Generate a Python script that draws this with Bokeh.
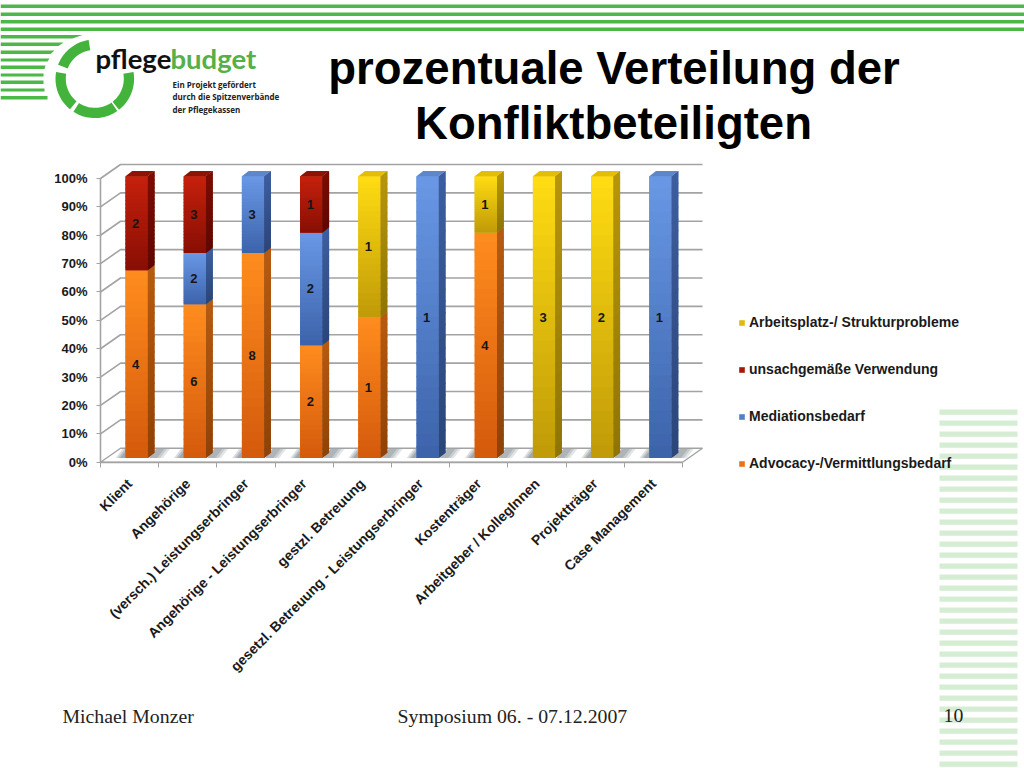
import numpy as np
from bokeh.plotting import figure
from bokeh.models import Range1d, FixedTicker, Legend, LegendItem
from bokeh.core.properties import value
from bokeh.embed import file_html
from bokeh.resources import INLINE

categories = ["Klient", "Angehörige", "(versch.) Leistungserbringer",
              "Angehörige - Leistungserbringer", "gestzl. Betreuung",
              "gesetzl. Betreuung - Leistungserbringer", "Kostenträger",
              "Arbeitgeber / KollegInnen", "Projektträger", "Case Management"]
advocacy = [4, 6, 8, 2, 1, 0, 4, 0, 0, 0]
mediation = [0, 2, 3, 2, 0, 1, 0, 0, 0, 1]
misuse = [2, 3, 0, 1, 0, 0, 0, 0, 0, 0]
workplace = [0, 0, 0, 0, 1, 0, 1, 3, 2, 0]
series_names = ["Advocacy-/Vermittlungsbedarf", "Mediationsbedarf",
                "unsachgemäße Verwendung", "Arbeitsplatz-/ Strukturprobleme"]
y_ticks = list(range(0, 101, 10))

# front-top, front-bottom, side-top, side-bottom, top face
palette = [("#ff8c1e", "#d45a0c", "#b65a10", "#8e4308", "#e87a1c"),
           ("#6a98e6", "#3c63aa", "#3d5f9f", "#2b4578", "#5d86cc"),
           ("#c6200c", "#880e04", "#7c0c02", "#5e0801", "#8f1206"),
           ("#ffdc12", "#c09a08", "#b8960a", "#8f7406", "#e2be06")]

# chart geometry (data units of the two main scales)
PX_PER_CAT = 58.2
PX_PER_PCT = 2.837
X0_PX, Y0_PX = 100.0, 461.7
BAR_X, BAR_W = 0.4296, 0.383
BASE, SCALE = 1.48, 0.993
SIDE_X, SIDE_Y = 0.115, 1.87
WALL_X, WALL_Y = 0.344, 4.93
N = len(categories)

W, H = 1024, 768
p = figure(width=W, height=H, toolbar_location=None, output_backend="svg",
           x_range=Range1d((0 - X0_PX) / PX_PER_CAT, (W - X0_PX) / PX_PER_CAT),
           y_range=Range1d((Y0_PX - H) / PX_PER_PCT, Y0_PX / PX_PER_PCT),
           min_border=0, min_border_left=0, min_border_right=0,
           min_border_top=0, min_border_bottom=0, outline_line_color=None,
           background_fill_color="white", border_fill_color="white")
p.grid.visible = False
p.extra_x_ranges = {"px": Range1d(0, W)}
p.extra_y_ranges = {"px": Range1d(H, 0)}
PX = dict(x_range_name="px", y_range_name="px")

# --- slide decoration ---
GREEN = "#4cb848"
for top, bot in [(4, 7.5), (12, 15.5), (19.5, 23), (27, 30.5)]:
    p.quad(left=0, right=1024, top=top, bottom=bot, fill_color=GREEN, line_color=None, **PX)
left_rows = [(34.5, 38, 82, 72), (42, 45.5, 63, 58), (50, 53.5, 54, 50), (58, 61, 49, 47),
             (65, 68.5, 45, 44), (73, 76, 43, 43), (80, 83.5, 43, 43), (88, 91, 44, 44), (95.5, 99, 47, 47)]
p.patches([[0, a, b, 0] for _, _, a, b in left_rows],
          [[t, t, u, u] for t, u, _, _ in left_rows],
          fill_color=GREEN, line_color=None, **PX)
ys = np.arange(409, 770, 11)
p.quad(left=939, right=1017, top=ys, bottom=ys + 5.3, fill_color="#d5edd2", line_color=None, **PX)

def wedge(a0, a1, cx=94.3, cy=78.3, r0=29, r1=39.3):
    t = np.radians(np.linspace(a0, a1, 24))
    xs = np.r_[cx + r1 * np.cos(t), cx + r0 * np.cos(t[::-1])]
    yy = np.r_[cy - r1 * np.sin(t), cy - r0 * np.sin(t[::-1])]
    return list(xs), list(yy)
arcs = [wedge(*a) for a in [(99, 159), (170, 231), (237, 305), (308, 370)]]
p.patches([a[0] for a in arcs], [a[1] for a in arcs], fill_color="#44b33c", line_color=None, **PX)

def txt(x, y, s, size, color="#000000", font="Liberation Sans", style="normal", align="left"):
    p.text([x], [y], text=[s], text_font=value(font), text_font_size=f"{size}px",
           text_font_style=style, text_color=color, text_align=align,
           text_baseline="middle", **PX)

txt(95, 58, "pflege", 27.5, "#111111", "Lato", "bold")
txt(170, 58, "budget", 27.5, "#55b04a", "Lato", "bold")
txt(172, 84, "Ein Projekt gefördert", 8, "#222222", "Open Sans", "bold")
txt(172, 96, "durch die Spitzenverbände", 8, "#222222", "Open Sans", "bold")
txt(172, 109, "der Pflegekassen", 8, "#222222", "Open Sans", "bold")
txt(613.5, 68, "prozentuale Verteilung der", 45.5, "#000000", "Liberation Sans", "bold", "center")
txt(613, 123, "Konfliktbeteiligten", 45.5, "#000000", "Liberation Sans", "bold", "center")
txt(62, 715, "Michael Monzer", 19.8, "#222222", "Liberation Serif")
txt(397, 715, "Symposium 06. - 07.12.2007", 19.8, "#222222", "Liberation Serif")
txt(943, 715, "10", 19.8, "#222222", "Liberation Serif")

# --- 3D chart frame ---
GRID = "#a3a3a3"
xe = float(N)
p.multi_line([[0, WALL_X, xe + WALL_X] for t in y_ticks[1:]],
             [[t, t + WALL_Y, t + WALL_Y] for t in y_ticks[1:]],
             line_color=GRID, line_width=1.6)
p.patch([0, WALL_X, xe + WALL_X, xe], [0, WALL_Y, WALL_Y, 0],
        fill_color="white", line_color=GRID, line_width=1.4)

# floor shadows
for i in range(N):
    for k, a in enumerate([0.24, 0.3, 0.36]):
        l = i + BAR_X - 0.17 + 0.04 * k
        p.patch([l, l + 0.17, l + 0.17 + 0.12, l + 0.12],
                [BASE, BASE, BASE + SIDE_Y * 1.7, BASE + SIDE_Y * 1.7],
                fill_color="#6f7b82", fill_alpha=a, line_color=None)
        r = i + BAR_X + BAR_W + 0.02
        p.patch([r, r + 0.24 - 0.05 * k, r + 0.36 - 0.05 * k, r + 0.12],
                [BASE, BASE, BASE + SIDE_Y * 1.7, BASE + SIDE_Y * 1.7],
                fill_color="#6f7b82", fill_alpha=a * 0.8, line_color=None)

# --- bars, drawn from the counts ---
counts = np.array([advocacy, mediation, misuse, workplace], dtype=float)
pct = counts / counts.sum(axis=0) * 100
cum = np.cumsum(pct, axis=0)
starts = cum - pct

def mix(c0, c1, t):
    a = np.array([int(c0[i:i + 2], 16) for i in (1, 3, 5)])
    b = np.array([int(c1[i:i + 2], 16) for i in (1, 3, 5)])
    return "#%02x%02x%02x" % tuple(int(v) for v in np.round(a + (b - a) * t))

to_y = lambda v: BASE + np.asarray(v) * SCALE
legend_items = {}
STEPS = 24
for s in range(4):
    idx = [i for i in range(N) if counts[s, i] > 0]
    left = np.array(idx) + BAR_X
    b, t = to_y(starts[s, idx]), to_y(cum[s, idx])
    top_c, bot_c, s_top, s_bot, roof = palette[s]
    r = p.vbar(x=left + BAR_W / 2, width=BAR_W, bottom=b, top=t,
               fill_color=mix(top_c, bot_c, 0.5), line_color=None)
    legend_items[s] = r
    # side face first, as a solid underlay, then its shading
    xs, yy = [], []
    for l, b1, t1 in zip(left, b, t):
        rx = l + BAR_W
        xs.append([rx, rx + SIDE_X, rx + SIDE_X, rx])
        yy.append([b1, b1 + SIDE_Y, t1 + SIDE_Y, t1])
    p.patches(xs, yy, fill_color=mix(s_top, s_bot, 0.5), line_color=None)
    for k in range(STEPS):  # vertical shading, each slice overlapping the next
        f0, f1 = k / STEPS, (k + 1) / STEPS
        tk = t - (t - b) * f0
        bk = np.maximum(t - (t - b) * f1 - 0.5, b)
        p.vbar(x=left + BAR_W / 2, width=BAR_W, top=tk, bottom=bk,
               fill_color=mix(top_c, bot_c, (k + .5) / STEPS), line_color=None)
        xs, yy = [], []
        for l, b1, t1 in zip(left, bk, tk):
            rx = l + BAR_W
            xs.append([rx, rx + SIDE_X, rx + SIDE_X, rx])
            yy.append([b1, b1 + SIDE_Y, t1 + SIDE_Y, t1])
        p.patches(xs, yy, fill_color=mix(s_top, s_bot, (k + .5) / STEPS), line_color=None)
    # roof of the uppermost segment
    idx2 = [i for i in idx if abs(cum[s, i] - 100) < 1e-6]
    if idx2:
        xs = [[i + BAR_X, i + BAR_X + BAR_W, i + BAR_X + BAR_W + SIDE_X, i + BAR_X + SIDE_X] for i in idx2]
        top_v = float(to_y(100))
        p.patches(xs, [[top_v, top_v, top_v + SIDE_Y, top_v + SIDE_Y]] * len(idx2),
                  fill_color=roof, line_color=None)

# value labels
lx, ly, lt = [], [], []
for s in range(4):
    for i in range(N):
        if counts[s, i] > 0:
            lx.append(i + BAR_X + BAR_W / 2 - 0.017)
            ly.append(float(to_y((starts[s, i] + cum[s, i]) / 2)))
            lt.append(str(int(counts[s, i])))
p.text(lx, ly, text=lt, text_font=value("Liberation Sans"), text_font_size="13px",
       text_font_style="bold", text_color="#161616", text_align="center", text_baseline="middle")

# --- axes placed inside the frame ---
ax = p.yaxis[0]
ax.fixed_location = 0
ax.bounds = (0, 100)
ax.ticker = FixedTicker(ticks=y_ticks)
ax.major_label_overrides = {t: f"{t}%" for t in y_ticks}
ax.major_label_text_font = "Liberation Sans"
ax.major_label_text_font_style = "bold"
ax.major_label_text_font_size = "13px"
ax.major_label_text_color = "#1a1a1a"
ax.major_label_standoff = 9
ax.axis_line_color = GRID
ax.axis_line_width = 1.6
ax.major_tick_line_color = GRID
ax.major_tick_in = 0
ax.major_tick_out = 4
ax.minor_tick_line_color = None

bx = p.xaxis[0]
bx.fixed_location = 0
bx.bounds = (0, N)
tick_pos = [i + 0.5 for i in range(N)]
bx.ticker = FixedTicker(ticks=tick_pos, minor_ticks=list(range(N + 1)))
bx.major_label_overrides = {t: c for t, c in zip(tick_pos, categories)}
bx.major_label_orientation = np.pi / 4
bx.major_label_text_font = "Liberation Sans"
bx.major_label_text_font_style = "bold"
bx.major_label_text_font_size = "14px"
bx.major_label_text_color = "#1a1a1a"
bx.major_label_standoff = 13
bx.axis_line_color = GRID
bx.axis_line_width = 1.6
bx.major_tick_line_color = None
bx.minor_tick_line_color = GRID
bx.minor_tick_in = 0
bx.minor_tick_out = 5

legend = Legend(items=[LegendItem(label=series_names[s], renderers=[legend_items[s]]) for s in (3, 2, 1, 0)],
                location=(738, 297), orientation="vertical",
                background_fill_alpha=0, border_line_color=None, glyph_width=7, glyph_height=7,
                label_standoff=4, spacing=31, margin=0, padding=0,
                label_text_font="Liberation Sans", label_text_font_style="bold",
                label_text_font_size="14px", label_text_color="#1a1a1a")
p.add_layout(legend)

open("out.html", "w").write(file_html(p, INLINE))
